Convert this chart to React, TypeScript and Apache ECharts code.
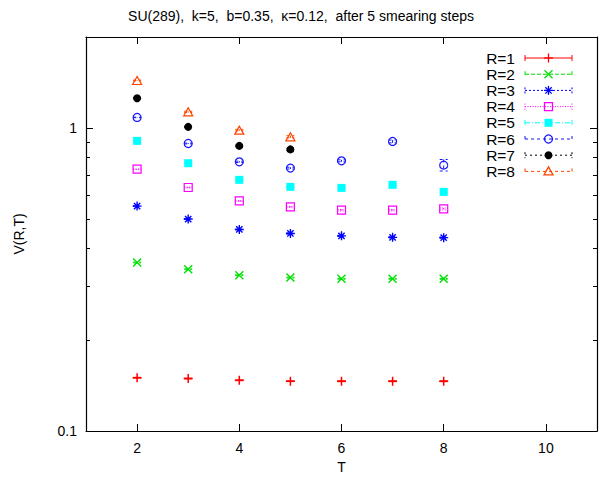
import React, { useEffect, useRef } from "react";
import * as echarts from "echarts";

// Euclidean time extents
const T = [2, 3, 4, 5, 6, 7, 8];
const xTicks = [2, 4, 6, 8, 10];
const yMajorTicks = [0.1, 1];
const yMinorTicks = [0.2, 0.3, 0.4, 0.5, 0.6, 0.7, 0.8, 0.9, 2];

// V(R,T) for each spatial separation R
const vR1 = [0.150, 0.149, 0.147, 0.146, 0.146, 0.146, 0.146];
const vR2 = [0.360, 0.342, 0.327, 0.321, 0.318, 0.318, 0.318];
const vR3 = [0.553, 0.501, 0.463, 0.449, 0.441, 0.436, 0.435];
const vR4 = [0.732, 0.637, 0.575, 0.550, 0.536, 0.536, 0.541];
const vR5 = [0.908, 0.766, 0.675, 0.640, 0.635, 0.650, 0.616];
const vR6 = [1.085, 0.890, 0.774, 0.738, 0.780, 0.904, 0.755];
const vR7 = [1.256, 1.010, 0.874, 0.851];
const vR8 = [1.437, 1.132, 0.985, 0.936];

// statistical errors
const eR1 = [0.0004, 0.0004, 0.0004, 0.0004, 0.0005, 0.0005, 0.0005];
const eR2 = [0.001, 0.001, 0.001, 0.001, 0.001, 0.001, 0.001];
const eR3 = [0.001, 0.001, 0.001, 0.002, 0.002, 0.002, 0.002];
const eR4 = [0.001, 0.002, 0.002, 0.002, 0.003, 0.003, 0.004];
const eR5 = [0.002, 0.002, 0.003, 0.003, 0.004, 0.005, 0.006];
const eR6 = [0.002, 0.003, 0.004, 0.005, 0.006, 0.010, 0.033];
const eR7 = [0.003, 0.004, 0.005, 0.006];
const eR8 = [0.004, 0.005, 0.006, 0.008];

const labels = ["R=1", "R=2", "R=3", "R=4", "R=5", "R=6", "R=7", "R=8"];
const values = [vR1, vR2, vR3, vR4, vR5, vR6, vR7, vR8];
const errors = [eR1, eR2, eR3, eR4, eR5, eR6, eR7, eR8];
const colors = ["#ff0000", "#00e000", "#0000ff", "#ff00ff", "#00ffff", "#1515ff", "#000000", "#ff4500"];
const markers = ["plus", "cross", "star", "square", "squareFill", "circle", "circleFill", "triangle"];
const dashes: (number[] | null)[] = [null, [4, 2], [2, 2], [1, 1.5], [5, 2, 1, 2], [3, 3], [2, 3], [3, 3]];

const FONT = "'Liberation Sans', Arial, Helvetica, sans-serif";

const symbolFor = (m: string): any => {
  switch (m) {
    case "plus":
      return { symbol: "path://M0,5L10,5M5,0L5,10", size: 9, open: true, lw: 1.5 };
    case "cross":
      return { symbol: "path://M0,0L10,10M10,0L0,10", size: 8, open: true, lw: 1.4 };
    case "star":
      return { symbol: "path://M0,5L10,5M5,0L5,10M1.5,1.5L8.5,8.5M8.5,1.5L1.5,8.5", size: 9, open: true, lw: 1.4 };
    case "square":
      return { symbol: "rect", size: 8, open: true, lw: 1.2 };
    case "squareFill":
      return { symbol: "rect", size: 8, open: false, lw: 0 };
    case "circle":
      return { symbol: "circle", size: 8, open: true, lw: 1.2 };
    case "circleFill":
      return { symbol: "circle", size: 8, open: false, lw: 0 };
    default:
      return { symbol: "triangle", size: [9, 8], open: true, lw: 1.2 };
  }
};

// legend glyphs in the gnuplot key style
const keyMarker = (m: string, cx: number, cy: number, color: string): any[] => {
  const st = { stroke: color, lineWidth: 1.3, fill: "none" };
  const ln = (x1: number, y1: number, x2: number, y2: number) => ({ type: "line", shape: { x1, y1, x2, y2 }, style: st });
  switch (m) {
    case "plus":
      return [ln(cx - 4.5, cy, cx + 4.5, cy), ln(cx, cy - 4.5, cx, cy + 4.5)];
    case "cross":
      return [ln(cx - 4, cy - 4, cx + 4, cy + 4), ln(cx + 4, cy - 4, cx - 4, cy + 4)];
    case "star":
      return [
        ln(cx - 4.5, cy, cx + 4.5, cy), ln(cx, cy - 4.5, cx, cy + 4.5),
        ln(cx - 3.2, cy - 3.2, cx + 3.2, cy + 3.2), ln(cx + 3.2, cy - 3.2, cx - 3.2, cy + 3.2),
      ];
    case "square":
      return [{ type: "rect", shape: { x: cx - 4, y: cy - 4, width: 8, height: 8 }, style: st }];
    case "squareFill":
      return [{ type: "rect", shape: { x: cx - 4, y: cy - 4, width: 8, height: 8 }, style: { fill: color } }];
    case "circle":
      return [{ type: "circle", shape: { cx, cy, r: 4 }, style: st }];
    case "circleFill":
      return [{ type: "circle", shape: { cx, cy, r: 4 }, style: { fill: color } }];
    default:
      return [{ type: "polygon", shape: { points: [[cx, cy - 4.5], [cx + 4.5, cy + 3.5], [cx - 4.5, cy + 3.5]] }, style: st }];
  }
};

const buildKey = (): any[] => {
  const els: any[] = [];
  const textRight = 515;
  const x1 = 525;
  const x2 = 572;
  labels.forEach((name, i) => {
    const y = 58 + i * 16.2;
    const color = colors[i];
    const ls: any = { stroke: color, lineWidth: 1 };
    if (dashes[i]) ls.lineDash = dashes[i];
    els.push({
      type: "text",
      x: textRight,
      y,
      style: { text: name, font: `15.5px ${FONT}`, fill: "#000", align: "right", verticalAlign: "middle" },
    });
    els.push({ type: "line", shape: { x1, y1: y, x2, y2: y }, style: ls });
    els.push({ type: "line", shape: { x1, y1: y - 3, x2: x1, y2: y + 3 }, style: ls });
    els.push({ type: "line", shape: { x1: x2, y1: y - 3, x2, y2: y + 3 }, style: ls });
    keyMarker(markers[i], (x1 + x2) / 2, y, color).forEach((e) => els.push(e));
  });
  return els;
};

const fmtLog = (v: number) => String(Number(v.toPrecision(3)));

export default function App() {
  const ref = useRef<HTMLDivElement>(null);

  useEffect(() => {
    if (!ref.current) return;
    const chart = echarts.init(ref.current, undefined, { renderer: "svg" });

    const tickStyle = { color: "#000", width: 1 };
    const common = { min: 1, max: 11, interval: 1, splitLine: { show: false } };
    const logCommon = { type: "log", logBase: 10, min: 0.1, max: 2, splitLine: { show: false }, minorTick: { show: false } };

    const scatterSeries = labels.map((name, i) => {
      const s = symbolFor(markers[i]);
      return {
        name,
        type: "scatter",
        xAxisIndex: 0,
        yAxisIndex: 0,
        symbol: s.symbol,
        symbolSize: s.size,
        z: 3,
        itemStyle: s.open
          ? { color: "rgba(0,0,0,0)", borderColor: colors[i], borderWidth: s.lw, opacity: 1 }
          : { color: colors[i], borderWidth: 0, opacity: 1 },
        emphasis: { disabled: true },
        data: values[i].map((v, j) => [T[j], v]),
      };
    });

    const errorSeries = labels.map((name, i) => ({
      name: name + " err",
      type: "custom",
      xAxisIndex: 0,
      yAxisIndex: 0,
      z: 2,
      encode: { x: 0, y: 1 },
      data: values[i].map((v, j) => [T[j], v, errors[i][j]]),
      renderItem: (_p: any, api: any) => {
        const x = api.value(0);
        const y = api.value(1);
        const e = api.value(2);
        const top = api.coord([x, y + e]);
        const bot = api.coord([x, y - e]);
        const hw = 4;
        const style: any = { stroke: colors[i], lineWidth: 1 };
        if (dashes[i]) style.lineDash = dashes[i];
        return {
          type: "group",
          children: [
            { type: "line", shape: { x1: top[0], y1: top[1], x2: bot[0], y2: bot[1] }, style },
            { type: "line", shape: { x1: top[0] - hw, y1: top[1], x2: top[0] + hw, y2: top[1] }, style },
            { type: "line", shape: { x1: bot[0] - hw, y1: bot[1], x2: bot[0] + hw, y2: bot[1] }, style },
          ],
        };
      },
    }));

    chart.setOption({
      animation: false,
      backgroundColor: "#fff",
      textStyle: { fontFamily: FONT },
      title: {
        text: "SU(289),  k=5,  b=0.35,  \u03ba=0.12,  after 5 smearing steps",
        left: "center",
        top: 4,
        textStyle: { fontFamily: FONT, fontSize: 14, fontWeight: "normal", color: "#000" },
      },
      grid: { left: 86, right: 5, top: 37, bottom: 54, show: false, outerBoundsMode: "none" },
      xAxis: [
        {
          type: "value",
          position: "bottom",
          ...common,
          name: "T",
          nameLocation: "middle",
          nameGap: 28,
          nameTextStyle: { fontFamily: FONT, fontSize: 14, color: "#000" },
          axisLine: { show: true, lineStyle: { color: "#000", width: 1.2 } },
          axisTick: { show: true, inside: true, length: 7, lineStyle: tickStyle, customValues: xTicks },
          axisLabel: { show: true, customValues: xTicks, margin: 10, fontFamily: FONT, fontSize: 14, color: "#000" },
        },
        {
          type: "value",
          position: "top",
          ...common,
          axisLine: { show: true, lineStyle: { color: "#000", width: 1.2 } },
          axisTick: { show: true, inside: true, length: 7, lineStyle: tickStyle, customValues: xTicks },
          axisLabel: { show: false },
        },
      ],
      yAxis: [
        {
          ...logCommon,
          position: "left",
          name: "V(R,T)",
          nameLocation: "middle",
          nameGap: 60,
          nameTextStyle: { fontFamily: FONT, fontSize: 14, color: "#000" },
          axisLine: { show: true, lineStyle: { color: "#000", width: 1.2 } },
          axisTick: { show: true, inside: true, length: 7, lineStyle: tickStyle, customValues: yMajorTicks },
          axisLabel: {
            show: true,
            customValues: yMajorTicks,
            margin: 9,
            fontFamily: FONT,
            fontSize: 14,
            color: "#000",
            formatter: fmtLog,
          },
        },
        {
          ...logCommon,
          position: "left",
          axisLine: { show: false },
          axisTick: { show: true, inside: true, length: 4, lineStyle: tickStyle, customValues: yMinorTicks },
          axisLabel: { show: false },
        },
        {
          ...logCommon,
          position: "right",
          axisLine: { show: true, lineStyle: { color: "#000", width: 1.2 } },
          axisTick: { show: true, inside: true, length: 7, lineStyle: tickStyle, customValues: yMajorTicks },
          axisLabel: { show: false },
        },
        {
          ...logCommon,
          position: "right",
          axisLine: { show: false },
          axisTick: { show: true, inside: true, length: 4, lineStyle: tickStyle, customValues: yMinorTicks },
          axisLabel: { show: false },
        },
      ],
      graphic: buildKey(),
      series: [...errorSeries, ...scatterSeries],
    });

    return () => chart.dispose();
  }, []);

  return (
    <div
      ref={ref}
      style={{ position: "absolute", left: 0, top: 0, width: 602, height: 485, background: "#fff" }}
    />
  );
}
